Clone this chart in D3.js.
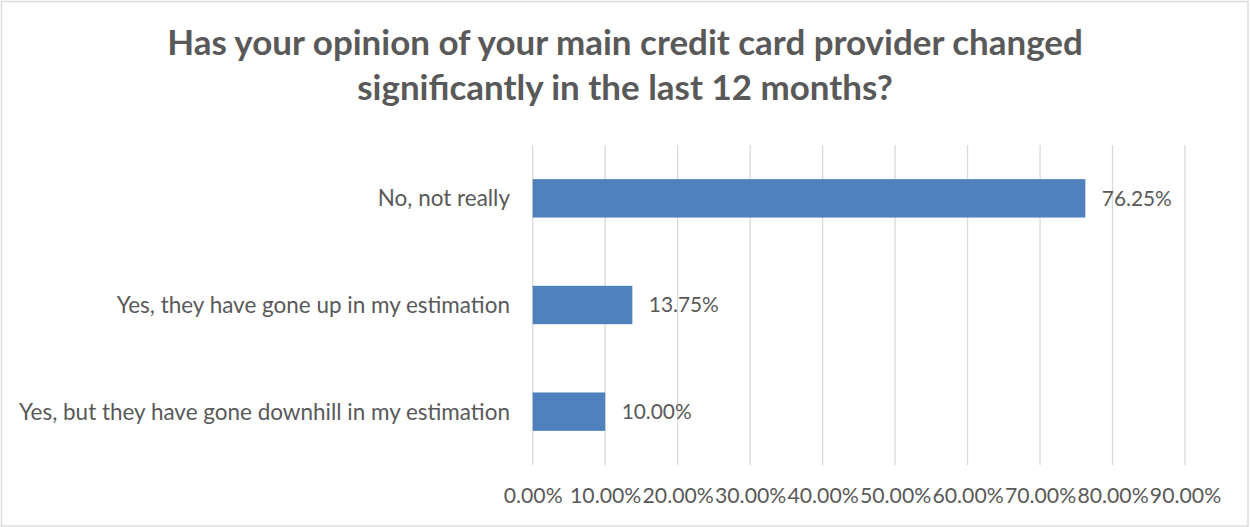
<!DOCTYPE html>
<html>
<head>
<meta charset="utf-8">
<script src="https://cdn.jsdelivr.net/npm/d3@7/dist/d3.min.js"></script>
<style>
  html, body { margin: 0; padding: 0; background: #fff; }
  svg { display: block; }
  text { font-family: Lato, "Open Sans", sans-serif; fill: #595959; }
</style>
</head>
<body>
<svg id="chart" width="1250" height="527"></svg>
<script>
// Survey responses
const categories = [
  "No, not really",
  "Yes, they have gone up in my estimation",
  "Yes, but they have gone downhill in my estimation"
];
const shares = [0.7625, 0.1375, 0.10];
const tickValues = [0, 0.1, 0.2, 0.3, 0.4, 0.5, 0.6, 0.7, 0.8, 0.9];
const titleLines = [
  "Has your opinion of your main credit card provider changed",
  "significantly in the last 12 months?"
];

const W = 1250, H = 527;
const svg = d3.select("#chart");

// Chart area frame
svg.append("rect")
  .attr("x", 1.5).attr("y", 1.5)
  .attr("width", W - 3.5).attr("height", H - 2.5)
  .attr("fill", "#fff")
  .attr("stroke", "#d9d9d9")
  .attr("stroke-width", 1.3);

const plot = { left: 532.7, right: 1185, top: 145, bottom: 465 };

const x = d3.scaleLinear().domain([0, 0.9]).range([plot.left, plot.right]);
const y = d3.scaleBand().domain(categories)
  .range([plot.top, plot.bottom])
  .paddingInner(0.64).paddingOuter(0.32);

const pct = d3.format(".2%");

// Scale a text's font size so its rendered width reaches the given width
function fitWidth(sel, width) {
  sel.each(function () {
    const node = this;
    const size = parseFloat(node.getAttribute("font-size"));
    const len = node.getComputedTextLength();
    if (len > 0) node.setAttribute("font-size", (size * width / len).toFixed(2));
  });
}

// Vertical gridlines
svg.append("g")
  .selectAll("line")
  .data(tickValues)
  .join("line")
  .attr("x1", d => x(d)).attr("x2", d => x(d))
  .attr("y1", plot.top).attr("y2", plot.bottom)
  .attr("stroke", "#d9d9d9")
  .attr("stroke-width", 1.3);

// Bottom axis labels
const xAxis = d3.axisBottom(x).tickValues(tickValues).tickFormat(pct).tickSize(0).tickPadding(0);
const gx = svg.append("g").attr("transform", `translate(0,${plot.bottom})`).call(xAxis);
gx.select(".domain").remove();
gx.selectAll("text")
  .attr("dy", null)
  .attr("y", 38)
  .attr("font-size", 19)
  .style("font-family", "Lato, 'Open Sans', sans-serif")
  .style("fill", "#595959");
const tickFont = (() => {
  const t = gx.select(".tick text").node();
  const len = t.getComputedTextLength();
  return 19 * 59 / len;
})();
gx.selectAll("text").attr("font-size", tickFont.toFixed(2));

// Category labels
const yAxis = d3.axisLeft(y).tickSize(0).tickPadding(0);
const gy = svg.append("g").attr("transform", `translate(510,0)`).call(yAxis);
gy.select(".domain").remove();
gy.selectAll("text")
  .attr("dy", "0.35em")
  .attr("font-size", 19)
  .style("font-family", "Lato, 'Open Sans', sans-serif")
  .style("fill", "#595959");
const catFont = (() => {
  const t = gy.selectAll(".tick text").filter(d => d === categories[2]).node();
  return 19 * 491 / t.getComputedTextLength();
})();
gy.selectAll("text").attr("font-size", catFont.toFixed(2));

// Bars
svg.append("g")
  .selectAll("rect")
  .data(categories)
  .join("rect")
  .attr("x", x(0))
  .attr("y", d => y(d))
  .attr("width", (d, i) => x(shares[i]) - x(0))
  .attr("height", y.bandwidth())
  .attr("fill", "#4f81bd");

// Value labels
const vl = svg.append("g")
  .selectAll("text")
  .data(categories)
  .join("text")
  .attr("x", (d, i) => x(shares[i]) + 16.5)
  .attr("y", d => y(d) + y.bandwidth() / 2)
  .attr("dy", "0.35em")
  .attr("font-size", 19)
  .text((d, i) => pct(shares[i]));
const valFont = 19 * 70 / vl.filter((d, i) => i === 0).node().getComputedTextLength();
vl.attr("font-size", valFont.toFixed(2));

// Title
const title = svg.append("g")
  .selectAll("text")
  .data(titleLines)
  .join("text")
  .attr("x", 625)
  .attr("y", (d, i) => 55 + i * 45)
  .attr("text-anchor", "middle")
  .attr("font-size", 30)
  .attr("font-weight", "bold")
  .text(d => d);
const titleFont = 30 * 916 / title.filter((d, i) => i === 0).node().getComputedTextLength();
title.attr("font-size", titleFont.toFixed(2));
</script>
</body>
</html>
